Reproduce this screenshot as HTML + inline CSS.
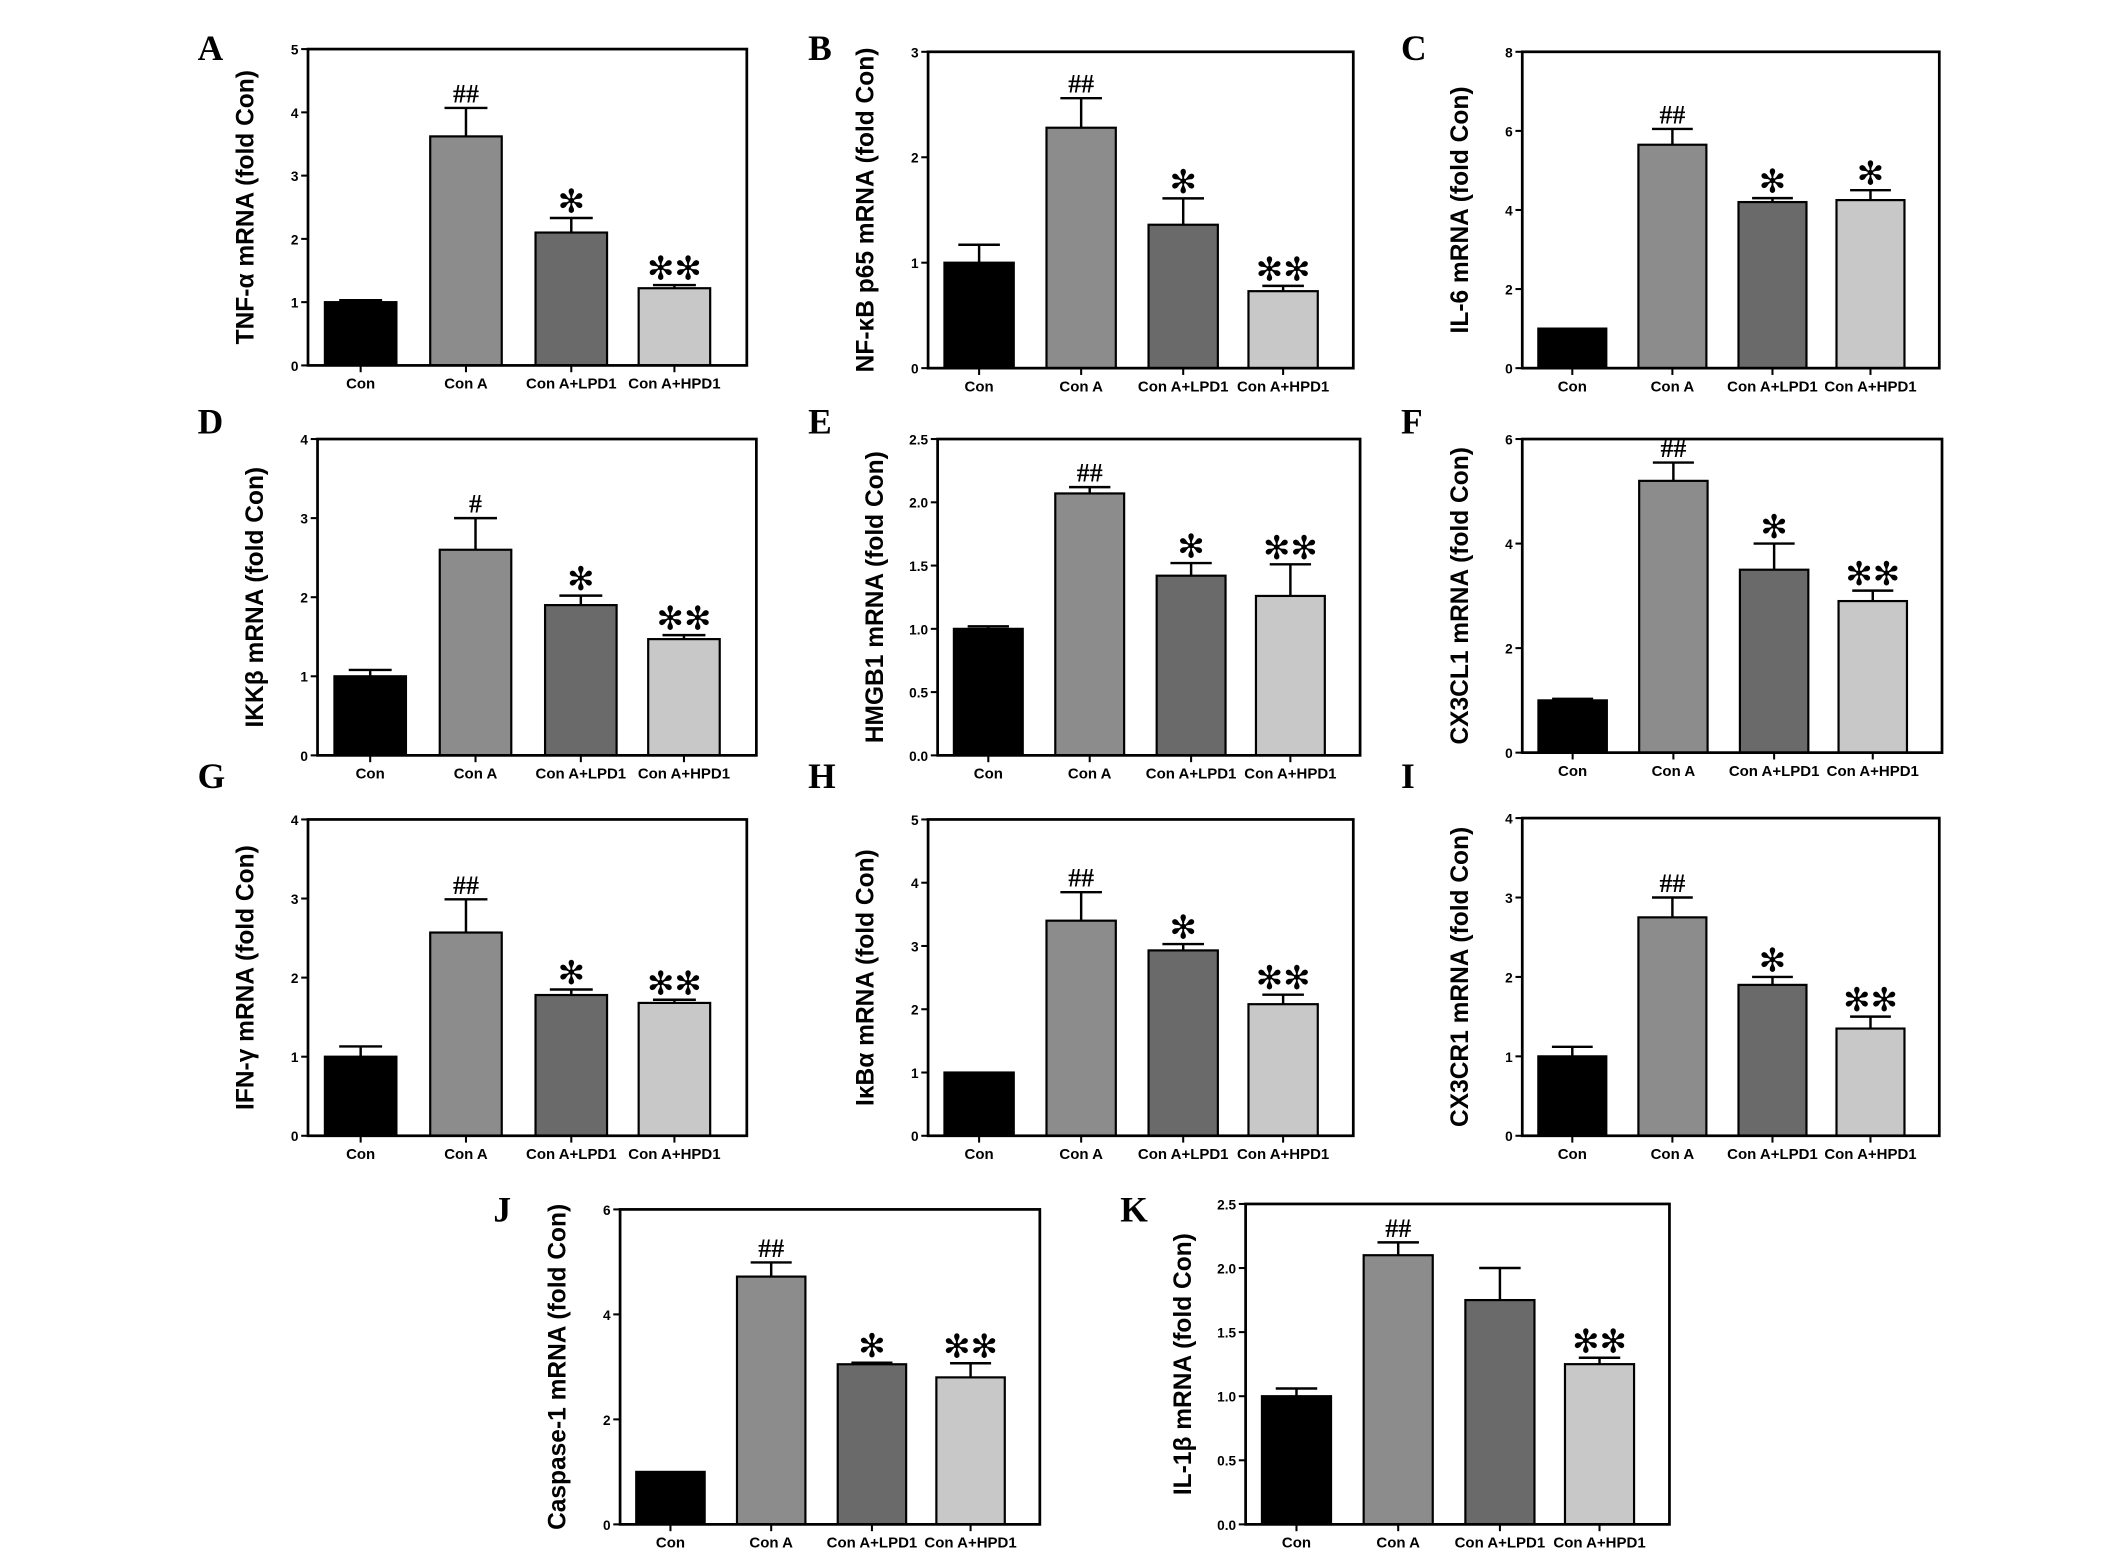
<!DOCTYPE html>
<html><head><meta charset="utf-8"><style>html,body{margin:0;padding:0;background:#fff}svg{display:block}</style></head>
<body>
<svg id="fig" width="2126" height="1568" viewBox="0 0 1560 1150" preserveAspectRatio="none" xmlns="http://www.w3.org/2000/svg" font-family="Liberation Sans, sans-serif"></svg>
<script>
const categories = ["Con","Con A","Con A+LPD1","Con A+HPD1"];
const panelLetters = ["A","B","C","D","E","F","G","H","I","J","K"];
const yTitles = ["TNF-α mRNA (fold Con)","NF-κB p65 mRNA (fold Con)","IL-6 mRNA (fold Con)","IKKβ mRNA (fold Con)","HMGB1 mRNA (fold Con)","CX3CL1 mRNA (fold Con)","IFN-γ mRNA (fold Con)","IκBα mRNA (fold Con)","CX3CR1 mRNA (fold Con)","Caspase-1 mRNA (fold Con)","IL-1β mRNA (fold Con)"];
const yMax = [5,3,8,4,2.5,6,4,5,4,6,2.5];
const yStep = [1,1,2,1,0.5,2,1,1,1,2,0.5];
const meanA=[1.0,3.62,2.1,1.22], errA=[0.03,0.45,0.23,0.05];
const meanB=[1.0,2.28,1.36,0.73], errB=[0.17,0.28,0.25,0.05];
const meanC=[1.0,5.65,4.2,4.25], errC=[0,0.4,0.1,0.25];
const meanD=[1.0,2.6,1.9,1.47], errD=[0.08,0.4,0.12,0.05];
const meanE=[1.0,2.07,1.42,1.26], errE=[0.02,0.05,0.1,0.25];
const meanF=[1.0,5.2,3.5,2.9], errF=[0.03,0.35,0.5,0.2];
const meanG=[1.0,2.57,1.78,1.68], errG=[0.13,0.42,0.07,0.04];
const meanH=[1.0,3.4,2.93,2.08], errH=[0,0.45,0.1,0.15];
const meanI=[1.0,2.75,1.9,1.35], errI=[0.12,0.25,0.1,0.15];
const meanJ=[1.0,4.72,3.05,2.8], errJ=[0,0.27,0.03,0.27];
const meanK=[1.0,2.1,1.75,1.25], errK=[0.06,0.1,0.25,0.05];
const means=[meanA,meanB,meanC,meanD,meanE,meanF,meanG,meanH,meanI,meanJ,meanK];
const errs=[errA,errB,errC,errD,errE,errF,errG,errH,errI,errJ,errK];
const marks=[["","##","*","**"],["","##","*","**"],["","##","*","*"],["","#","*","**"],["","##","*","**"],["","##","*","**"],["","##","*","**"],["","##","*","**"],["","##","*","**"],["","##","*","**"],["","##","","**"]];

const frames=[[226,36,548,268],[681,38,993,270],[1117,38,1423,270],[233,322,555,554],[688,322,998,554],[1117,322,1425,552],[226,601,548,833],[681,601,993,833],[1117,600,1423,833],[455,887,763,1118],[914,883,1225,1118]];
const letterPos=[[145,44],[593,44],[1028,44],[145,318],[593,318],[1028,318],[145,578],[593,578],[1028,578],[362,896],[822,896]];
const colors=["#000","#8c8c8c","#6a6a6a","#c8c8c8"];
const centers=[0.12,0.36,0.6,0.835];
const NS="http://www.w3.org/2000/svg";
const svg=document.getElementById('fig');
function mk(tag,attrs,parent){const e=document.createElementNS(NS,tag);for(const k in attrs)e.setAttribute(k,attrs[k]);(parent||svg).appendChild(e);return e;}

frames.forEach((f,p)=>{
  const [x0,y0,x1,y1]=f, W=x1-x0, H=y1-y0;
  const g=mk('g',{});
  
  
  const yS=v=>y1-v/yMax[p]*H;
  const xS=i=>x0+centers[i]*W;
  const bw=W*0.163;
  const lt=mk('text',{x:letterPos[p][0],y:letterPos[p][1],'font-family':'Liberation Serif, serif','font-weight':'bold','font-size':26},g);
  lt.textContent=panelLetters[p];
  
  
  const yt=mk('text',{x:0,y:0,'font-weight':'bold','font-size':18,'text-anchor':'middle',transform:`translate(${x0-40},${(y0+y1)/2}) rotate(-90)`},g);
  yt.textContent=yTitles[p];
  
  
  for(let i=0;i<4;i++){
    const v=means[p][i], e=errs[p][i], cx=xS(i);
    if(e>0){
      const el=mk('path',{d:`M${cx},${yS(v)} V${yS(v+e)} M${cx-bw*0.3},${yS(v+e)} H${cx+bw*0.3}`,stroke:'#000','stroke-width':1.8,fill:'none'},g);
      
      
    }
    const r=mk('rect',{x:cx-bw/2,y:yS(v),width:bw,height:y1-yS(v),fill:colors[i],stroke:'#000','stroke-width':1.6},g);
    
    
    if(marks[p][i]){
      const isStar=marks[p][i].startsWith('*');
      const m=mk('text',{x:cx,y:yS(v+e)-(isStar?4:4),'text-anchor':'middle','font-size':isStar?24:19,'font-family':isStar?'DejaVu Sans, sans-serif':'Liberation Serif, serif','font-weight':isStar?'normal':'bold'},g);
      m.textContent=isStar?marks[p][i].replace(/\*/g,'✻'):marks[p][i];
      
      
    }
    const tk=mk('line',{x1:cx,x2:cx,y1:y1,y2:y1+5,stroke:'#000','stroke-width':1.5},g);
    
    
    const xl=mk('text',{x:cx,y:y1+17,'text-anchor':'middle','font-weight':'bold','font-size':11},g);
    xl.textContent=categories[i];
    
    
  }
  const dec=yStep[p]<1;
  for(let v=0;v<=yMax[p]+1e-9;v+=yStep[p]){
    const t=mk('line',{x1:x0-5,x2:x0,y1:yS(v),y2:yS(v),stroke:'#000','stroke-width':1.5},g);
    
    
    const tl=mk('text',{x:x0-7,y:yS(v)+4,'text-anchor':'end','font-weight':'bold','font-size':10},g);
    tl.textContent=dec?v.toFixed(1):String(v);
    
    
  }
  const fr=mk('rect',{x:x0,y:y0,width:W,height:H,fill:'none',stroke:'#000','stroke-width':2},g);
  
  
});
</script>
</body></html>
